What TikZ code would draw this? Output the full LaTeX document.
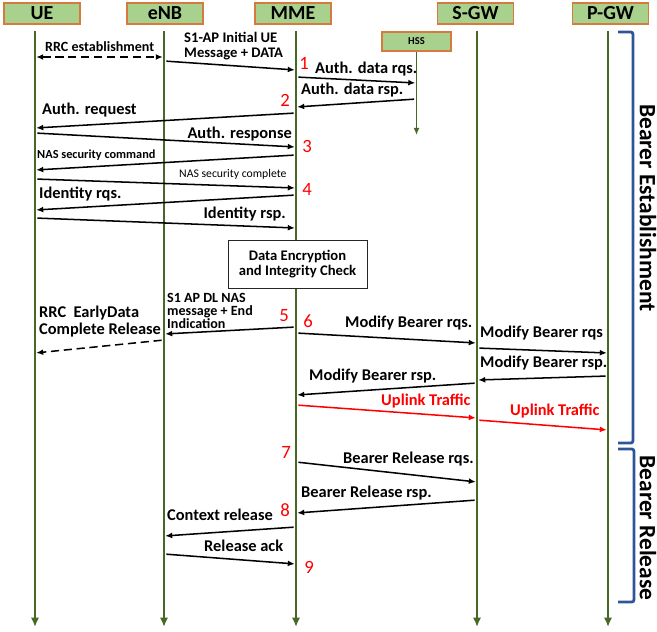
\documentclass[tikz,border=0pt]{standalone}
\usepackage{fontspec}
\setmainfont{Carlito}
\usepackage{xcolor}
\usepackage{tikz}
\usetikzlibrary{arrows.meta}

\definecolor{lifeGreen}{RGB}{72,104,40}
\definecolor{headFill}{RGB}{169,209,142}
\definecolor{headLine}{RGB}{214,122,62}
\definecolor{braceBlue}{RGB}{47,85,151}
\newcommand{\fsz}[2]{\fontsize{#1}{#2}\selectfont}

\begin{document}
\begin{tikzpicture}[x=0.03cm, y=-0.03cm,
			headStyle/.style={draw=headLine, line width=0.9pt, fill=headFill, minimum width=2.28cm, minimum height=0.63cm, inner sep=0pt, font=\bfseries\fsz{17}{19}},
			hssStyle/.style={headStyle, minimum width=2.07cm, minimum height=0.57cm, font=\bfseries\fsz{9}{10}},
			lifeStyle/.style={draw=lifeGreen, line width=2.4pt, -{Latex[length=8pt,width=7pt]}},
			msgStyle/.style={-{Latex[length=6pt,width=5pt]}, line width=1.3pt, shorten <=2pt, shorten >=1pt},
			dashStyle/.style={msgStyle, dash pattern=on 7pt off 4pt},
			upStyle/.style={msgStyle, red},
			lblStyle/.style={inner sep=0pt, font=\bfseries\fsz{14}{15}},
			numStyle/.style={inner sep=0pt, red, font=\fsz{16}{16}},
			braceStyle/.style={draw=braceBlue, line width=2.4pt, rounded corners=2pt},
			sideStyle/.style={inner sep=0pt, rotate=-90, font=\bfseries\fsz{20}{20}},]
			
			\useasboundingbox (0,0) rectangle (657,631);
			
			\begin{scope}[every node/.style={headStyle}]
				\node (ue) at (42,13.5) {UE};
				\node (enb) at (165,13.5) {eNB};
				\node (mme) at (293,13.5) {MME};
				\node (sgw) at (475.5,13.5) {S-GW};
				\node (pgw) at (610.5,13.5) {P-GW};
			\end{scope}
			\node[hssStyle] (hss) at (416.5,41.5) {HSS};
			
			\foreach \n/\x in {ue/35, enb/164, mme/296, sgw/477, pgw/608}{
				\coordinate (\n0) at (\x,31);
				\coordinate (\n1) at (\x,627);
				\draw[lifeStyle] (\n0) -- (\n1);
			}
			\coordinate (hss0) at (hss.south);
			\coordinate (hss1) at (416.5,135);
			\draw[lifeStyle, line width=1.3pt, -{Latex[length=6pt,width=5pt]}] (hss0) -- (hss1);
			
			%% messages
			\draw[dashStyle, {Latex[length=6pt,width=5pt]}-{Latex[length=6pt,width=5pt]}, shorten <=1pt] (ue0 |- 0,57) -- (enb0 |- 0,57);
			\draw[dashStyle] (enb0 |- 0,340) -- (ue0 |- 0,353);
			
			\foreach \p/\py/\q/\qy in {enb/61/mme/70, mme/77/hss/83, hss/99/mme/107, mme/113/ue/128,
				ue/133/mme/147, mme/155/ue/170, ue/179/mme/188, mme/195/ue/210, ue/218/mme/228,
				mme/327/enb/334, mme/333/sgw/343, sgw/348/pgw/353, pgw/376/sgw/380, sgw/383/mme/395,
				mme/462/sgw/482, sgw/500/mme/513, mme/527/enb/536, enb/554/mme/564}
			\draw[msgStyle] (\p0 |- 0,\py) -- (\q0 |- 0,\qy);
			
			\draw[upStyle] (mme0 |- 0,405) -- (sgw0 |- 0,418);
			\draw[upStyle] (sgw0 |- 0,420) -- (pgw0 |- 0,430);
			
			%% labels
			\node[lblStyle, font=\bfseries\fsz{12}{13}, anchor=base west] (lRrc) at (45,51) {RRC establishment};
			\node[lblStyle, font=\bfseries\fsz{12.5}{12.8}, anchor=base west, align=left] (lInit) at (184,57) {S1-AP Initial UE\\Message + DATA};
			\node[lblStyle, anchor=base west] (lAdrq) at (315,73) {Auth. data rqs.};
			\node[lblStyle, anchor=base west] (lAdrs) at (301,94) {Auth. data rsp.};
			\node[lblStyle, anchor=base west] (lArq) at (42,114) {Auth. request};
			\node[lblStyle, anchor=base east] (lArs) at (292,138) {Auth. response};
			\node[lblStyle, font=\bfseries\fsz{10.5}{11}, anchor=base west] (lNasCmd) at (37,158) {NAS security command};
			\node[lblStyle, font=\fsz{10}{11}, anchor=base west] (lNasCpl) at (179,177) {NAS security complete};
			\node[lblStyle, anchor=base west] (lIdrq) at (39,198) {Identity rqs.};
			\node[lblStyle, anchor=base east] (lIdrs) at (286,218) {Identity rsp.};
			
			\node[draw=black!85, line width=0.8pt, fill=white, minimum width=4.17cm, minimum height=1.44cm, align=center, font=\bfseries\fsz{12.5}{12.8}] (dec) at (297.5,264) {Data Encryption\\and Integrity Check};
			
			\node[lblStyle, font=\bfseries\fsz{12}{10.8}, anchor=base west, align=left] (lDl) at (167,328) {S1 AP DL NAS\\message + End\\Indication};
			\node[lblStyle, font=\bfseries\fsz{14}{14.5}, anchor=base west, align=left] (lEarly) at (39,334) {RRC~~EarlyData\\Complete Release};
			\node[lblStyle, anchor=base west] (lMbrq) at (345,327) {Modify Bearer rqs.};
			\node[lblStyle, anchor=base west] (lMbrq2) at (480,337) {Modify Bearer rqs};
			\node[lblStyle, anchor=base west] (lMbrs2) at (480,367) {Modify Bearer rsp.};
			\node[lblStyle, anchor=base west] (lMbrs) at (309,380) {Modify Bearer rsp.};
			\node[lblStyle, red, anchor=base west] (lUp) at (381,405) {Uplink Traffic};
			\node[lblStyle, red, anchor=base west] (lUp2) at (510,415) {Uplink Traffic};
			\node[lblStyle, anchor=base west] (lBrrq) at (343,463) {Bearer Release rqs.};
			\node[lblStyle, anchor=base west] (lBrrs) at (301,497) {Bearer Release rsp.};
			\node[lblStyle, anchor=base west] (lCtx) at (167,520) {Context release};
			\node[lblStyle, anchor=base west] (lAck) at (204,551) {Release ack};
			
			\foreach \k/\x/\y in {1/304/63, 2/285/100, 3/307/146, 4/307/189, 5/284/316, 6/308/321, 7/286/452, 8/285/510, 9/309/567}
			\node[numStyle] (n\k) at (\x,\y) {\k};
			
			%% phases
			\draw[braceStyle] (618,32) -- (633,32) -- (633,443) -- (618,443);
			\draw[braceStyle] (618,449) -- (634,449) -- (634,602) -- (618,602);
			\node[sideStyle] (estLbl) at (648,208) {Bearer Establishment};
			\node[sideStyle] (relLbl) at (648,528) {Bearer Release};
		\end{tikzpicture}
\end{document}
